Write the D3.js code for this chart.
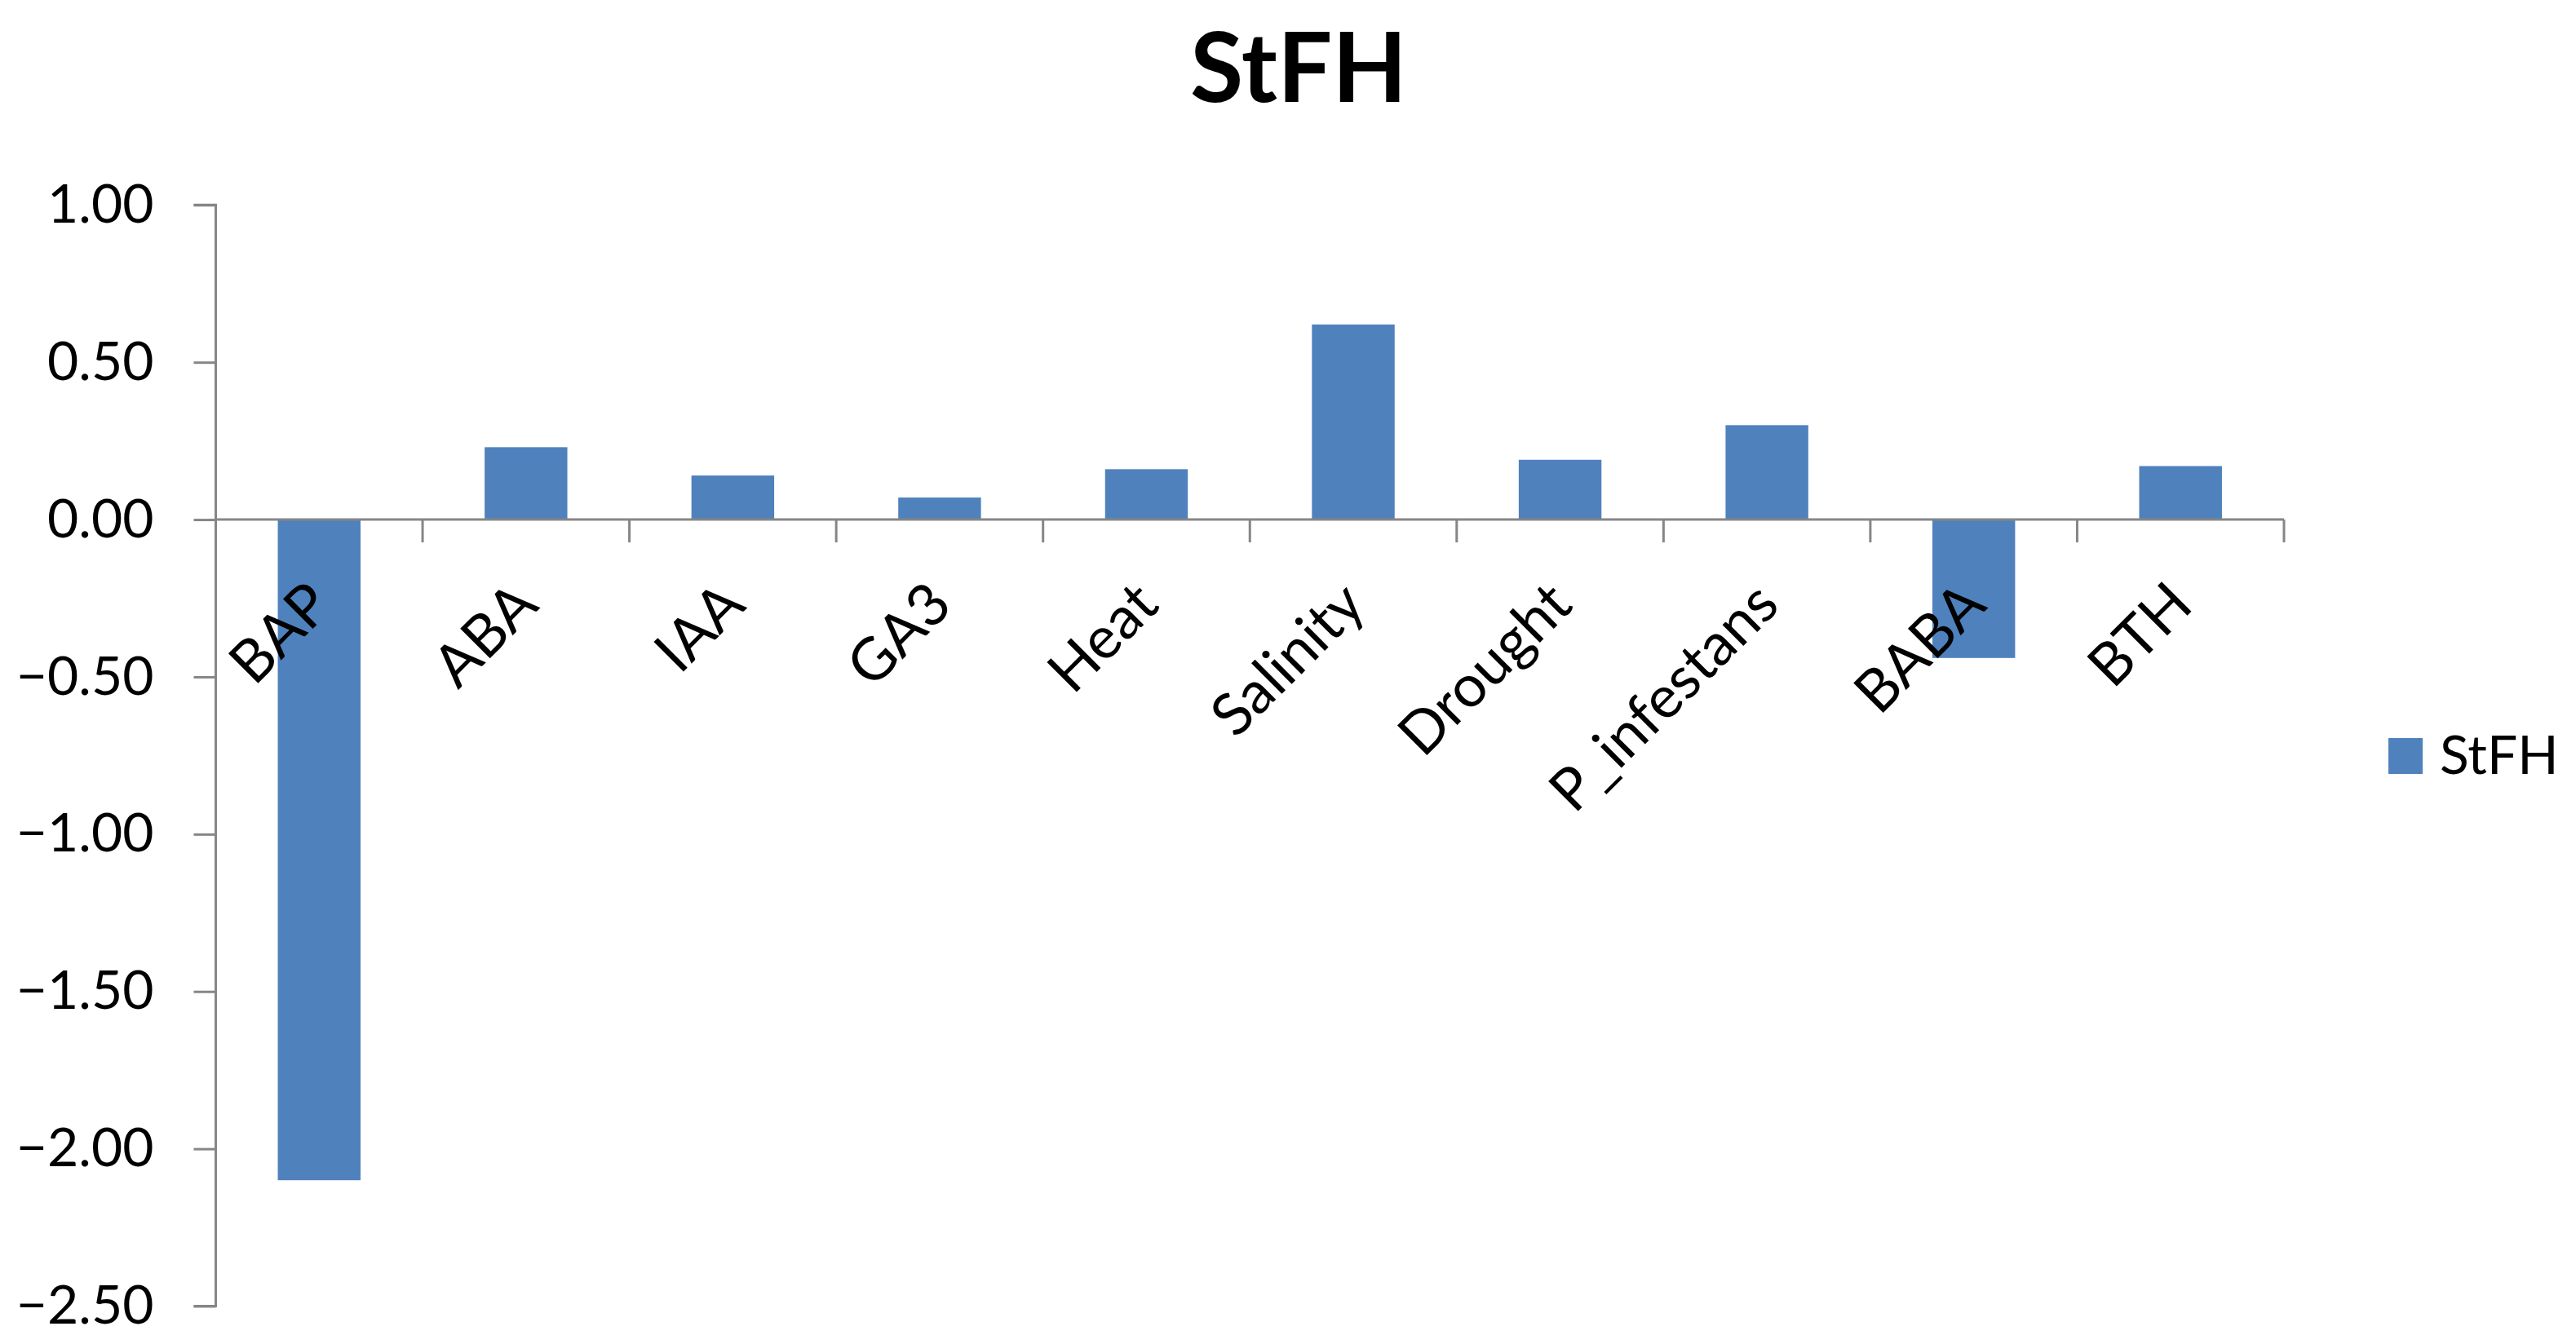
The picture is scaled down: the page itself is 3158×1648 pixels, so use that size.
<!DOCTYPE html>
<html>
<head>
<meta charset="utf-8">
<script src="https://cdn.jsdelivr.net/npm/d3@7"></script>
<style>
  html, body { margin: 0; padding: 0; background: #ffffff; }
  svg { display: block; }
</style>
</head>
<body>
<svg id="chart" width="3158" height="1648"></svg>
<script>
const categories = ["BAP", "ABA", "IAA", "GA3", "Heat", "Salinity", "Drought", "P_infestans", "BABA", "BTH"];
const values = [-2.10, 0.23, 0.14, 0.07, 0.16, 0.62, 0.19, 0.30, -0.44, 0.17];
const yTicks = [1.00, 0.50, 0.00, -0.50, -1.00, -1.50, -2.00, -2.50];
const seriesName = "StFH";
const chartTitle = "StFH";

const barColor = "#4F81BD";
const axisColor = "#868686";
const fontFam = "Lato, 'Open Sans', sans-serif";

const svg = d3.select("#chart");
svg.append("rect").attr("width", 3158).attr("height", 1648).attr("fill", "#fff");

const plot = { left: 264.5, right: 2800, top: 251.3, bottom: 1601.5 };

const y = d3.scaleLinear().domain([-2.5, 1]).range([plot.bottom, plot.top]);
const x = d3.scaleBand().domain(categories).range([plot.left, plot.right]).padding(0);
const bw = x.bandwidth();

// Title
svg.append("text")
  .attr("x", 1592).attr("y", 125)
  .attr("text-anchor", "middle")
  .attr("font-family", fontFam).attr("font-weight", 700)
  .attr("font-size", 119).attr("fill", "#000")
  .text(chartTitle);

// Bars
svg.append("g").selectAll("rect").data(categories).join("rect")
  .attr("x", (d) => x(d) + bw * 0.3)
  .attr("width", bw * 0.4)
  .attr("y", (d, i) => y(Math.max(0, values[i])))
  .attr("height", (d, i) => Math.abs(y(values[i]) - y(0)))
  .attr("fill", barColor);

// Y axis
const yAxis = d3.axisLeft(y)
  .tickValues(yTicks)
  .tickSize(27)
  .tickPadding(49)
  .tickFormat(d3.format(".2f"));
const gy = svg.append("g").attr("transform", `translate(${plot.left},0)`).call(yAxis);
gy.select(".domain").attr("stroke", axisColor).attr("stroke-width", 3)
  .attr("d", `M-27,${plot.top}H0V${plot.bottom}H-27`);
gy.selectAll(".tick line").attr("stroke", axisColor).attr("stroke-width", 3);
gy.selectAll(".tick text")
  .attr("font-family", fontFam).attr("font-size", 66).attr("fill", "#000");

// X axis (at zero)
const boundaries = categories.map((c) => x(c)).concat([plot.right]);
const gx = svg.append("g");
gx.append("line")
  .attr("x1", plot.left).attr("x2", plot.right)
  .attr("y1", y(0)).attr("y2", y(0))
  .attr("stroke", axisColor).attr("stroke-width", 3);
gx.selectAll("line.tk").data(boundaries).join("line")
  .attr("class", "tk")
  .attr("x1", (d) => d).attr("x2", (d) => d)
  .attr("y1", y(0)).attr("y2", y(0) + 28)
  .attr("stroke", axisColor).attr("stroke-width", 3);

gx.selectAll("text").data(categories).join("text")
  .attr("transform", (d) => `translate(${x(d) + bw / 2 + 18},${y(0) + 108}) rotate(-45)`)
  .attr("text-anchor", "end")
  .attr("font-family", fontFam).attr("font-size", 72).attr("fill", "#000")
  .text((d) => d);

// Legend
const lg = svg.append("g");
lg.append("rect").attr("x", 2928).attr("y", 905).attr("width", 42).attr("height", 44).attr("fill", barColor);
lg.append("text").attr("x", 2991).attr("y", 949)
  .attr("font-family", fontFam).attr("font-size", 66).attr("fill", "#000")
  .text(seriesName);
</script>
</body>
</html>
